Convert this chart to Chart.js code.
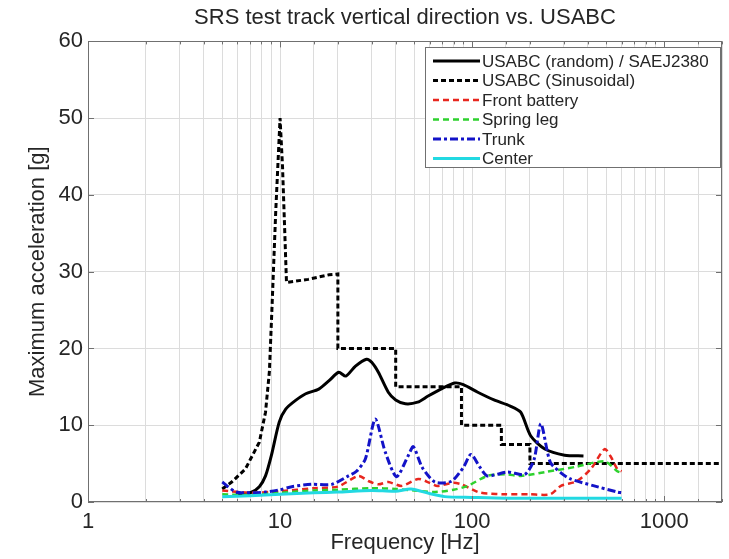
<!DOCTYPE html>
<html>
<head>
<meta charset="utf-8">
<script src="https://cdn.jsdelivr.net/npm/chart.js@4/dist/chart.umd.min.js"></script>
<style>
  html, body { margin: 0; padding: 0; background: #fff; }
  #wrap { width: 729px; height: 559px; }
</style>
</head>
<body>
<div id="wrap"><canvas id="srsChart" width="729" height="559"></canvas></div>
<script>
// ---- data (frequency in Hz, acceleration in g) ----
const seriesNames = [
    'USABC (random) / SAEJ2380',
    'USABC (Sinusoidal)',
    'Front battery',
    'Spring leg',
    'Trunk',
    'Center'
];

const randomFreq  = [5.9, 7, 7.8, 8.4, 9.0, 9.9, 10.7, 12, 13.6, 15.9, 18, 20.2, 22, 24.7, 28.2, 30, 32.5, 36.6, 40, 44.9, 52, 59, 70, 81, 90, 107, 130, 158, 179, 202, 239, 303, 380];
const randomAccel = [1.0, 1.2, 2.0, 3.4, 6.0, 10.4, 12.1, 13.2, 14.1, 14.7, 15.8, 16.9, 16.4, 17.7, 18.6, 18.2, 16.9, 14.3, 13.3, 12.8, 13.0, 13.8, 14.8, 15.5, 15.3, 14.3, 13.3, 12.5, 11.7, 8.6, 6.9, 6.1, 6.0];

const sineFreq  = [5, 5.6, 6.6, 7.8, 8.4, 8.8, 9.1, 9.5, 10, 10.3, 10.8, 14, 18, 20, 20, 40, 40, 88, 88, 142, 142, 200, 200, 2000];
const sineAccel = [1.7, 2.6, 4.3, 7.8, 11.7, 17, 26, 38, 50, 43.7, 28.6, 29.0, 29.6, 29.7, 20, 20, 15, 15, 10, 10, 7.5, 7.5, 5, 5];

const frontFreq  = [5, 7, 10, 15, 20, 25.6, 29, 32.5, 36.6, 43, 52.5, 60, 66, 80, 88, 107, 120, 147, 200, 255, 290, 350, 415, 490, 530, 570, 600];
const frontAccel = [1.5, 1.2, 1.4, 1.8, 2.0, 3.4, 2.7, 2.3, 2.6, 2.1, 3.0, 2.5, 2.1, 2.5, 2.3, 1.3, 1.1, 1.0, 1.0, 1.0, 2.1, 2.7, 4.3, 6.9, 5.8, 4.3, 4.0];

const springFreq  = [5, 7, 10, 15, 20, 30, 40, 50, 64, 80, 95, 120, 150, 179, 240, 350, 490, 570, 600];
const springAccel = [1.0, 0.9, 1.2, 1.5, 1.6, 1.8, 1.7, 1.5, 1.3, 1.6, 2.1, 3.4, 3.6, 3.4, 3.9, 4.6, 5.3, 4.0, 3.8];

const trunkFreq  = [5, 5.9, 7, 8.4, 10, 11.5, 14.6, 18.6, 22.7, 25, 27.8, 31.3, 35.3, 40.4, 46.4, 49.4, 55, 64, 78, 90, 98.6, 110, 120, 153, 188, 210, 228, 255, 290, 325, 432, 570, 600];
const trunkAccel = [2.6, 1.3, 1.2, 1.3, 1.6, 2.0, 2.3, 2.3, 3.4, 4.0, 5.6, 10.8, 6.5, 3.3, 6.0, 7.2, 4.5, 2.6, 2.7, 4.5, 6.2, 4.5, 3.4, 3.9, 3.6, 5.5, 10.2, 5.2, 3.8, 3.0, 2.1, 1.3, 1.2];

const centerFreq  = [5, 7, 10, 15, 20, 30, 40, 48, 60, 72, 100, 150, 250, 400, 600];
const centerAccel = [0.7, 0.8, 1.0, 1.2, 1.3, 1.5, 1.4, 1.7, 1.1, 0.7, 0.6, 0.5, 0.5, 0.5, 0.5];

const xLabelValues = [1, 10, 100, 1000];

// ---- styling ----
const FONT = "'Liberation Sans', Arial, Helvetica, sans-serif";
const lineStyles = [
    { color: '#000000', width: 3,   dash: [] },
    { color: '#000000', width: 3,   dash: [5, 3] },
    { color: '#e8261e', width: 2.5, dash: [6, 4] },
    { color: '#2ed12e', width: 2.5, dash: [6, 4] },
    { color: '#1313c8', width: 3,   dash: [8, 3, 3, 3] },
    { color: '#22d9e2', width: 3,   dash: [] }
];

const zip = (xs, ys) => xs.map((x, i) => ({ x: x, y: ys[i] }));
const seriesData = [
    zip(randomFreq, randomAccel),
    zip(sineFreq, sineAccel),
    zip(frontFreq, frontAccel),
    zip(springFreq, springAccel),
    zip(trunkFreq, trunkAccel),
    zip(centerFreq, centerAccel)
];

const datasets = seriesNames.map((name, i) => ({
    label: name,
    data: seriesData[i],
    borderColor: lineStyles[i].color,
    borderWidth: lineStyles[i].width,
    borderDash: lineStyles[i].dash,
    pointRadius: 0,
    fill: false,
    tension: i === 1 ? 0 : 0.25,
    order: seriesNames.length - i   // later series painted on top, as in MATLAB
}));

/**
 * Box, inner tick marks and the in-plot legend (MATLAB look)
 */
const matlabFrame = {
    id: 'matlabFrame',
    afterDatasetsDraw(chart) {
        const { ctx, chartArea: a, scales } = chart;
        ctx.save();
        ctx.strokeStyle = '#707070';
        ctx.lineWidth = 1;
        ctx.setLineDash([]);

        // inner ticks
        ctx.beginPath();
        scales.x.ticks.forEach(t => {
            const px = Math.round(scales.x.getPixelForValue(t.value)) + 0.5;
            const major = xLabelValues.includes(t.value);
            const len = major ? 6 : 3;
            ctx.moveTo(px, a.bottom); ctx.lineTo(px, a.bottom - len);
            ctx.moveTo(px, a.top);    ctx.lineTo(px, a.top + len);
        });
        scales.y.ticks.forEach(t => {
            const py = Math.round(scales.y.getPixelForValue(t.value)) + 0.5;
            ctx.moveTo(a.left, py);  ctx.lineTo(a.left + 6, py);
            ctx.moveTo(a.right, py); ctx.lineTo(a.right - 6, py);
        });
        ctx.stroke();

        ctx.strokeRect(Math.round(a.left) + 0.5, Math.round(a.top) + 0.5,
                       Math.round(a.right - a.left) - 1, Math.round(a.bottom - a.top) - 1);

        // legend box
        const bx = 425, by = 47, bw = 296, bh = 121;
        ctx.fillStyle = '#ffffff';
        ctx.fillRect(bx, by, bw, bh);
        ctx.strokeStyle = '#707070';
        ctx.strokeRect(bx + 0.5, by + 0.5, bw - 1, bh - 1);

        ctx.font = '17px ' + FONT;
        ctx.textBaseline = 'middle';
        ctx.textAlign = 'left';
        chart.data.datasets.forEach((ds, i) => {
            const y = 61 + i * 19.5;
            ctx.beginPath();
            ctx.strokeStyle = ds.borderColor;
            ctx.lineWidth = ds.borderWidth;
            ctx.setLineDash(ds.borderDash);
            ctx.moveTo(433, y);
            ctx.lineTo(480, y);
            ctx.stroke();
            ctx.setLineDash([]);
            ctx.fillStyle = '#262626';
            ctx.fillText(ds.label, 482, y + 1);
        });
        ctx.restore();
    }
};

new Chart(document.getElementById('srsChart').getContext('2d'), {
    type: 'line',
    data: { datasets: datasets },
    plugins: [matlabFrame],
    options: {
        responsive: false,
        animation: false,
        devicePixelRatio: 1,
        layout: { padding: { left: 0, right: 7, top: 0, bottom: 0 } },
        plugins: {
            legend: { display: false },
            tooltip: { enabled: false },
            title: {
                display: true,
                fullSize: false,
                text: 'SRS test track vertical direction vs. USABC',
                color: '#262626',
                font: { family: FONT, size: 22, weight: 'normal' },
                padding: { top: 5, bottom: 10 }
            }
        },
        scales: {
            x: {
                type: 'logarithmic',
                min: 1,
                max: 2000,
                afterFit: scale => { scale.height = 57; },
                grid: { color: '#dcdcdc', drawTicks: false },
                border: { display: false },
                ticks: {
                    autoSkip: false,
                    maxRotation: 0,
                    padding: 7,
                    color: '#262626',
                    font: { family: FONT, size: 22 },
                    callback: value => xLabelValues.includes(value) ? String(value) : ''
                },
                title: {
                    display: true,
                    text: 'Frequency [Hz]',
                    color: '#262626',
                    font: { family: FONT, size: 22 },
                    padding: { top: 0, bottom: 3 }
                }
            },
            y: {
                min: 0,
                max: 60,
                afterFit: scale => { scale.width = 88; },
                grid: { color: '#dcdcdc', drawTicks: false },
                border: { display: false },
                ticks: {
                    stepSize: 10,
                    padding: 5,
                    color: '#262626',
                    font: { family: FONT, size: 22 }
                },
                title: {
                    display: true,
                    text: 'Maximum acceleration [g]',
                    color: '#262626',
                    font: { family: FONT, size: 22 },
                    padding: { top: 25, bottom: 0 }
                }
            }
        }
    }
});
</script>
</body>
</html>
